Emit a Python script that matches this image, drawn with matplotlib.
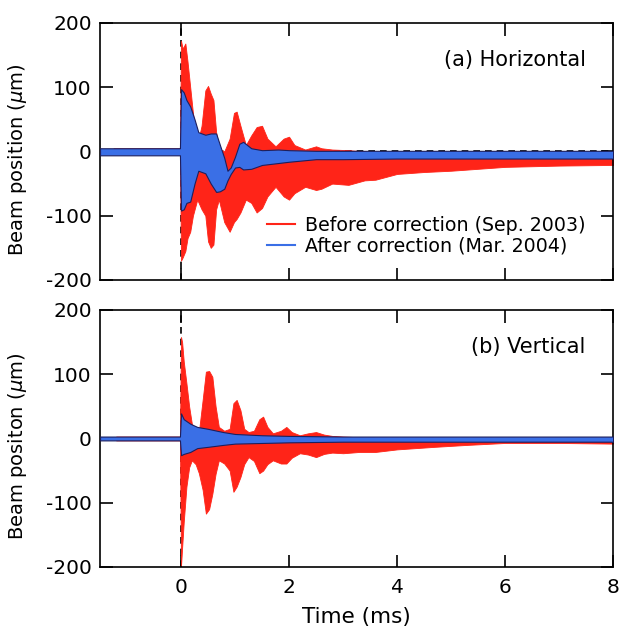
import numpy as np
import matplotlib.pyplot as plt

plt.rcParams['font.family'] = ['DejaVu Sans']
plt.rcParams['axes.unicode_minus'] = False

# (a) horizontal, before correction (Sep. 2003): envelope
h_red_t = [-1.25, -0.6, -0.02, 0.0, 0.03, 0.08, 0.12, 0.17, 0.22, 0.3, 0.38, 0.45, 0.5, 0.55, 0.6,
           0.65, 0.7, 0.8, 0.9, 0.98, 1.03, 1.1, 1.2, 1.3, 1.4, 1.5, 1.6, 1.75, 1.9, 2.0, 2.1, 2.3,
           2.5, 2.6, 2.8, 3.1, 3.4, 3.6, 4.0, 4.5, 5.0, 5.5, 6.0, 7.0, 8.0]
h_red_hi = [5, 5, 5, 172, 160, 168, 140, 100, 60, 10, 40, 95, 102, 90, 80,
            30, 5, 0, 20, 60, 62, 40, 10, 25, 38, 40, 20, 8, 20, 23, 10, 3,
            8, 5, 3, 2, 0, -2, -3, -5, -6, -7, -8, -8, -9]
h_red_lo = [-3, -3, -3, -170, -165, -155, -135, -125, -100, -75, -90, -100, -140, -150, -145,
            -90, -75, -110, -125, -110, -105, -95, -75, -80, -95, -88, -70, -55, -70, -75, -65, -55,
            -60, -58, -50, -52, -45, -44, -35, -32, -30, -27, -24, -22, -21]

# (a) horizontal, after correction (Mar. 2004)
h_blue_t = [-1.5, -0.8, -0.02, 0.0, 0.05, 0.1, 0.17, 0.25, 0.32, 0.45, 0.55, 0.65, 0.72, 0.8, 0.86,
            0.92, 1.0, 1.08, 1.15, 1.3, 1.5, 1.8, 2.0, 2.5, 3.0, 4.0, 5.0, 6.0, 7.0, 8.0]
h_blue_hi = [5, 5, 5, 97, 92, 80, 70, 50, 30, 26, 28, 28, 10, -10, -30,
             -25, -8, 12, 15, 5, 2, 3, 2, 1, 1, 1, 1, 1, 1, 1]
h_blue_lo = [-6, -6, -6, -92, -90, -80, -78, -50, -30, -34, -50, -63, -62, -58, -45,
             -35, -25, -24, -28, -27, -21, -18, -16, -12, -12, -11, -11, -11, -11, -11]

# (b) vertical, before correction
v_red_t = [-1.2, -0.6, -0.02, 0.0, 0.02, 0.05, 0.1, 0.15, 0.2, 0.27, 0.33, 0.4, 0.46, 0.52, 0.58,
           0.64, 0.7, 0.8, 0.9, 0.97, 1.03, 1.1, 1.17, 1.25, 1.35, 1.45, 1.52, 1.6, 1.7, 1.85,
           1.95, 2.05, 2.2, 2.35, 2.5, 2.65, 2.8, 3.0, 3.3, 3.6, 4.0, 4.7, 5.3, 6.0, 7.0, 8.0]
v_red_hi = [3, 3, 3, 158, 150, 120, 86, 50, 23, 12, 10, 60, 104, 105, 96,
            50, 18, 12, 15, 55, 60, 44, 15, 10, 12, 30, 34, 18, 8, 12,
            18, 10, 5, 8, 10, 6, 4, 3, 2, 2, 2, 2, 2, 2, 2, 2]
v_red_lo = [-3, -3, -3, -198, -170, -130, -75, -45, -34, -40, -54, -80, -117, -110, -86,
            -55, -34, -39, -50, -83, -75, -60, -40, -29, -35, -54, -50, -40, -34, -39,
            -39, -30, -23, -25, -29, -24, -22, -23, -21, -21, -17, -13, -10, -7, -7, -8]

# (b) vertical, after correction
v_blue_t = [-1.5, -0.5, -0.02, 0.0, 0.05, 0.17, 0.3, 0.5, 0.78, 1.0, 1.5, 2.0, 3.0, 4.0, 5.0, 6.0, 8.0]
v_blue_hi = [3, 3, 3, 39, 30, 23, 18, 15, 10, 7, 5, 4, 3, 3, 3, 3, 3]
v_blue_lo = [-3, -3, -3, -26, -24, -21, -15, -13, -10, -8, -7, -6, -5, -5, -5, -5, -5]

red = '#ff2418'
blue = '#3a6fe6'
navy = '#1c1f5e'

fig = plt.figure(figsize=(6.19, 6.34), dpi=100)
ax1 = fig.add_axes([0.1616, 0.5584, 0.8288, 0.4054])
ax2 = fig.add_axes([0.1616, 0.1057, 0.8288, 0.4054])

panels = [
    (ax1, h_red_t, h_red_hi, h_red_lo, h_blue_t, h_blue_hi, h_blue_lo,
     '(a) Horizontal', 'Beam position ($\\mu$m)'),
    (ax2, v_red_t, v_red_hi, v_red_lo, v_blue_t, v_blue_hi, v_blue_lo,
     '(b) Vertical', 'Beam positon ($\\mu$m)'),
]

for ax, rt, rhi, rlo, bt, bhi, blo, title, ylab in panels:
    ax.axhline(0, color='black', ls=(0, (4, 3)), lw=1.2, zorder=1)
    ax.axvline(0, color='black', ls=(0, (4, 3)), lw=1.2, zorder=1)
    ax.fill_between(rt, rlo, rhi, color=red, lw=0.6, edgecolor=red, zorder=2)
    ax.fill_between(bt, blo, bhi, color=blue, lw=0.8, edgecolor=navy, zorder=3)
    ax.set_xlim(-1.5, 8)
    ax.set_ylim(-200, 200)
    ax.set_xticks([0, 2, 4, 6, 8])
    ax.set_yticks([-200, -100, 0, 100, 200])
    ax.tick_params(direction='in', length=9, width=1.2, top=True, right=True,
                   labelsize=14.5)
    ax.tick_params(axis='y', pad=6)
    ax.tick_params(axis='x', pad=8)
    for s in ax.spines.values():
        s.set_linewidth(1.2)
    ax.set_ylabel(ylab, fontsize=14)
    ax.yaxis.set_label_coords(-0.138, 0.47)
    ax.text(0.947, 0.855, title, transform=ax.transAxes, ha='right', va='center', fontsize=15)

ax1.tick_params(labelbottom=False)
ax2.set_xlabel('Time (ms)', fontsize=15.5, labelpad=7)

l1, = ax1.plot([], [], color=red, lw=1.5, label='Before correction (Sep. 2003)')
l2, = ax1.plot([], [], color=blue, lw=1.5, label='After correction (Mar. 2004)')
ax1.legend(handles=[l1, l2], loc='upper left', bbox_to_anchor=(0.325, 0.25), frameon=False,
           borderpad=0, borderaxespad=0, handlelength=1.5, handletextpad=0.5,
           labelspacing=0.1, fontsize=13.7)

fig.savefig('out.png', dpi=100)
